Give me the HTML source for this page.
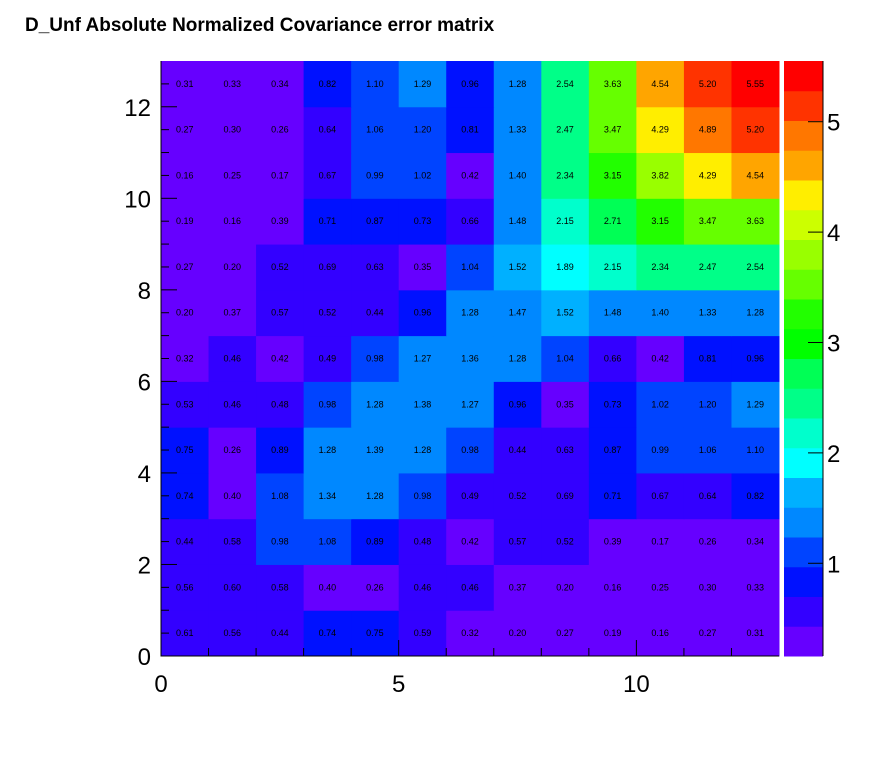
<!DOCTYPE html>
<html><head><meta charset="utf-8"><style>
body{margin:0;background:#fff;}
svg{display:block;font-family:"Liberation Sans",sans-serif;}
</style></head><body>
<svg id="c" width="896" height="772">
<rect width="896" height="772" fill="#fff"/>
<text x="25" y="31" font-size="19" font-weight="bold">D_Unf Absolute Normalized Covariance error matrix</text>
<g id="cells"></g>
<g id="axes"></g>
<g id="pal"></g>
</svg>
<script>
const rowLabels=[0,1,2,3,4,5,6,7,8,9,10,11,12];
const xTicks=[0,5,10];
const yTicks=[0,2,4,6,8,10,12];
const zTicks=[1,2,3,4,5];
// values[row y from 0 upwards][col x]
const values=[
[0.61,0.56,0.44,0.74,0.75,0.59,0.32,0.20,0.27,0.19,0.16,0.27,0.31],
[0.56,0.60,0.58,0.40,0.26,0.46,0.46,0.37,0.20,0.16,0.25,0.30,0.33],
[0.44,0.58,0.98,1.08,0.89,0.48,0.42,0.57,0.52,0.39,0.17,0.26,0.34],
[0.74,0.40,1.08,1.34,1.28,0.98,0.49,0.52,0.69,0.71,0.67,0.64,0.82],
[0.75,0.26,0.89,1.28,1.39,1.28,0.98,0.44,0.63,0.87,0.99,1.06,1.10],
[0.53,0.46,0.48,0.98,1.28,1.38,1.27,0.96,0.35,0.73,1.02,1.20,1.29],
[0.32,0.46,0.42,0.49,0.98,1.27,1.36,1.28,1.04,0.66,0.42,0.81,0.96],
[0.20,0.37,0.57,0.52,0.44,0.96,1.28,1.47,1.52,1.48,1.40,1.33,1.28],
[0.27,0.20,0.52,0.69,0.63,0.35,1.04,1.52,1.89,2.15,2.34,2.47,2.54],
[0.19,0.16,0.39,0.71,0.87,0.73,0.66,1.48,2.15,2.71,3.15,3.47,3.63],
[0.16,0.25,0.17,0.67,0.99,1.02,0.42,1.40,2.34,3.15,3.82,4.29,4.54],
[0.27,0.30,0.26,0.64,1.06,1.20,0.81,1.33,2.47,3.47,4.29,4.89,5.20],
[0.31,0.33,0.34,0.82,1.10,1.29,0.96,1.28,2.54,3.63,4.54,5.20,5.55]
];
const palette=["#6600ff","#3300ff","#0011ff","#0044ff","#0088ff","#00b0ff","#00ffff","#00ffcc","#00ff88","#00ff55","#00ff00","#22ff00","#66ff00","#99ff00","#ccff00","#ffee00","#ffa500","#ff7700","#ff3300","#ff0000"];
const zMin=0.16,zMax=5.55;
const X0=161,X1=779,Y0=656,Y1=61,N=13;
const sx=v=>X0+(X1-X0)*v/N, sy=v=>Y0-(Y0-Y1)*v/N;
const PX0=784,PX1=823, sz=z=>Y0-(Y0-Y1)*(z-zMin)/(zMax-zMin);
const NS="http://www.w3.org/2000/svg";
function mk(t,a,p){const e=document.createElementNS(NS,t);for(const k in a)e.setAttribute(k,a[k]);p.appendChild(e);return e;}
function col(z){let i=Math.floor((z-zMin)/(zMax-zMin)*palette.length);i=Math.max(0,Math.min(palette.length-1,i));return palette[i];}
const cells=document.getElementById('cells');
values.forEach((row,r)=>row.forEach((v,c)=>{
 const x=sx(c),y=sy(r+1),w=sx(c+1)-x,h=sy(r)-y;
 const e=mk('rect',{x:x,y:y,width:w+0.5,height:h+0.5,fill:col(v)},cells);
 
 
 const t=mk('text',{x:x+w/2,y:y+h/2+3,'font-size':9,'text-anchor':'middle'},cells);
 
 
 t.textContent=v.toFixed(2);
}));
const ax=document.getElementById('axes');
mk('path',{d:`M${X0} ${Y1}V${Y0}H${X1}`,stroke:'#000',fill:'none','stroke-width':1},ax);
rowLabels.forEach(i=>{
 mk('line',{x1:sx(i),x2:sx(i),y1:Y0,y2:Y0-(i%5==0?16:8),stroke:'#000'},ax);
 mk('line',{x1:X0,x2:X0+(i%2==0?16:8),y1:sy(i),y2:sy(i),stroke:'#000'},ax);
 if(i%2==1){}
});
for(let i=0;i<N;i++){mk('line',{x1:X0,x2:X0+8,y1:sy(i+0.5),y2:sy(i+0.5),stroke:'#000'},ax);}
xTicks.forEach(v=>{const t=mk('text',{x:sx(v),y:Y0+36,'font-size':24,'text-anchor':'middle'},ax);
 t.textContent=v;});
yTicks.forEach(v=>{const t=mk('text',{x:X0-10,y:sy(v)+9,'font-size':24,'text-anchor':'end'},ax);
 t.textContent=v;});
const pal=document.getElementById('pal');
palette.forEach((c,i)=>{const z0=zMin+(zMax-zMin)*i/palette.length,z1=zMin+(zMax-zMin)*(i+1)/palette.length;
 const e=mk('rect',{x:PX0,y:sz(z1),width:PX1-PX0,height:sz(z0)-sz(z1)+0.5,fill:c},pal);
 });
mk('line',{x1:PX1,x2:PX1,y1:Y1,y2:Y0,stroke:'#000'},pal);
zTicks.forEach(z=>{mk('line',{x1:PX1-15,x2:PX1,y1:sz(z),y2:sz(z),stroke:'#000'},pal);
 const t=mk('text',{x:PX1+4,y:sz(z)+9,'font-size':24},pal);
 t.textContent=z;});
</script>
</body></html>
